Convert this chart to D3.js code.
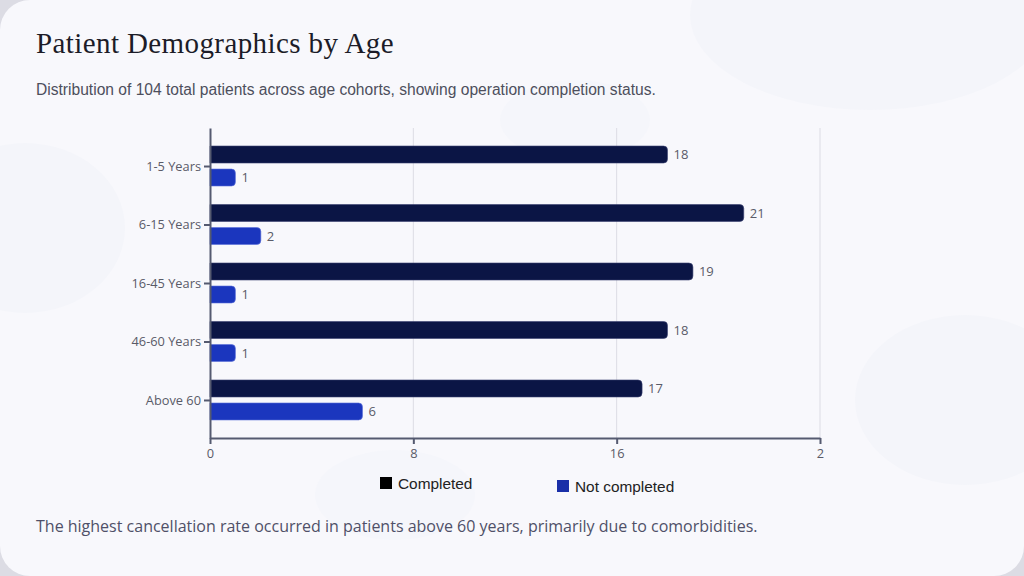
<!DOCTYPE html>
<html><head><meta charset="utf-8">
<script src="https://cdn.jsdelivr.net/npm/d3@7"></script>
<style>
html,body{margin:0;padding:0;background:#dcdce4;}
svg{display:block;}
</style></head>
<body>
<svg id="chart" width="1024" height="576"></svg>
<script>
const categories = ["1-5 Years","6-15 Years","16-45 Years","46-60 Years","Above 60"];
const completed = [18,21,19,18,17];
const notCompleted = [1,2,1,1,6];
const seriesNames = ["Completed","Not completed"];
const xTicks = [0,8,16,24];
const xTickLabels = ["0","8","16","2"];

const svg = d3.select("#chart");
const W=1024,H=576;
// card background
svg.append("rect").attr("x",0).attr("y",0).attr("width",W).attr("height",H).attr("rx",30).attr("fill","#f8f8fc");
const blobs = svg.append("g");
blobs.append("ellipse").attr("cx",870).attr("cy",15).attr("rx",180).attr("ry",95).attr("fill","#f4f5fa");
blobs.append("ellipse").attr("cx",25).attr("cy",228).attr("rx",100).attr("ry",85).attr("fill","#f4f5fa");
blobs.append("ellipse").attr("cx",965).attr("cy",400).attr("rx",110).attr("ry",85).attr("fill","#f4f5fa");
blobs.append("ellipse").attr("cx",575).attr("cy",120).attr("rx",75).attr("ry",40).attr("fill","#f5f6fb");
blobs.append("ellipse").attr("cx",395).attr("cy",495).attr("rx",80).attr("ry",45).attr("fill","#f5f6fb");

svg.append("text").attr("x",36).attr("y",53).text("Patient Demographics by Age")
  .attr("font-family","Liberation Serif, serif").attr("font-size",29).attr("letter-spacing",0.4).attr("fill","#1c1c28");
svg.append("text").attr("x",36).attr("y",95).text("Distribution of 104 total patients across age cohorts, showing operation completion status.")
  .attr("font-family","Liberation Sans, Arial, sans-serif").attr("font-size",15.6).attr("fill","#4d4f5c");
svg.append("text").attr("x",36).attr("y",532).text("The highest cancellation rate occurred in patients above 60 years, primarily due to comorbidities.")
  .attr("font-family","Open Sans, sans-serif").attr("font-size",16).attr("fill","#4f5068");

const x = d3.scaleLinear().domain([0,24]).range([210,820]);
const y = d3.scalePoint().domain(categories).range([128,438]).padding(0.65);

const g = svg.append("g");
// gridlines
g.selectAll("line.grid").data(xTicks.slice(1)).join("line")
  .attr("x1",d=>x(d)).attr("x2",d=>x(d)).attr("y1",128).attr("y2",438)
  .attr("stroke","#dcdce4").attr("stroke-width",1);

const barH = 17, gap = 3;
function barPath(x0,x1,yTop,h,r){
  r = Math.min(r,(x1-x0));
  return `M${x0},${yTop}H${x1-r}Q${x1},${yTop} ${x1},${yTop+r}V${yTop+h-r}Q${x1},${yTop+h} ${x1-r},${yTop+h}H${x0}Z`;
}
const data = categories.map((c,i)=>({c,comp:completed[i],nc:notCompleted[i]}));
g.selectAll("path.comp").data(data).join("path")
  .attr("d",d=>barPath(x(0),x(d.comp),y(d.c)-gap-barH,barH,4))
  .attr("fill","#0b1545").attr("stroke","#3a4270").attr("stroke-width",0.6);
g.selectAll("path.nc").data(data).join("path")
  .attr("d",d=>barPath(x(0),x(d.nc),y(d.c)+gap,barH,4))
  .attr("fill","#1b36be").attr("stroke","#5a6fd8").attr("stroke-width",0.6);

const lblFont = "Open Sans, sans-serif";
g.selectAll("text.vc").data(data).join("text")
  .attr("x",d=>x(d.comp)+6).attr("y",d=>y(d.c)-gap-barH/2+4.7).text(d=>d.comp)
  .attr("font-family",lblFont).attr("font-size",13).attr("fill","#5a5b68");
g.selectAll("text.vn").data(data).join("text")
  .attr("x",d=>x(d.nc)+6).attr("y",d=>y(d.c)+gap+barH/2+4.7).text(d=>d.nc)
  .attr("font-family",lblFont).attr("font-size",13).attr("fill","#5a5b68");

// axes
const xAxis = d3.axisBottom(x).tickValues(xTicks).tickFormat((d,i)=>xTickLabels[i]).tickSize(6).tickSizeOuter(0);
const xg = svg.append("g").attr("transform","translate(0,438)").call(xAxis);
xg.select(".domain").attr("stroke","#555a70").attr("stroke-width",2);
xg.selectAll(".tick line").attr("stroke","#555a70").attr("stroke-width",2);
xg.selectAll(".tick text").attr("font-family",lblFont).attr("font-size",12.8).attr("fill","#5a5b68").attr("dy","0.85em");

const yAxis = d3.axisLeft(y).tickSize(6).tickSizeOuter(0);
const yg = svg.append("g").attr("transform","translate(210,0)").call(yAxis);
yg.select(".domain").attr("stroke","#555a70").attr("stroke-width",2);
yg.selectAll(".tick line").attr("stroke","#555a70").attr("stroke-width",2);
yg.selectAll(".tick text").attr("font-family",lblFont).attr("font-size",12.8).attr("fill","#5a5b68").attr("x",-9);

// legend
const legend = [
  {name:seriesNames[0],color:"#000000",x:380,y:477},
  {name:seriesNames[1],color:"#1a2fa8",x:557,y:480}
];
const lg = svg.append("g");
legend.forEach(l=>{
  lg.append("rect").attr("x",l.x).attr("y",l.y).attr("width",12).attr("height",12).attr("fill",l.color);
  lg.append("text").attr("x",l.x+18).attr("y",l.y+11.5).text(l.name)
    .attr("font-family","Liberation Sans, Arial, sans-serif").attr("font-size",15.4).attr("fill","#222");
});
</script>
</body></html>
